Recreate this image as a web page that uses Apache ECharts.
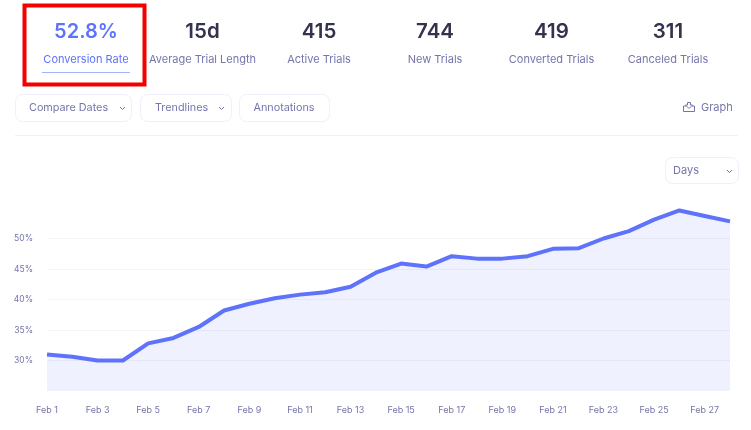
<!DOCTYPE html>
<html>
<head>
<meta charset="utf-8">
<title>Conversion Rate</title>
<style>
html, body { margin: 0; padding: 0; background: #fff; }
#main { width: 751px; height: 430px; }
</style>
<script src="https://cdn.jsdelivr.net/npm/echarts@6/dist/echarts.min.js"></script>
</head>
<body>
<div id="main"></div>
<script>
var days = ['Feb 1','Feb 2','Feb 3','Feb 4','Feb 5','Feb 6','Feb 7','Feb 8','Feb 9','Feb 10','Feb 11','Feb 12','Feb 13','Feb 14',
    'Feb 15','Feb 16','Feb 17','Feb 18','Feb 19','Feb 20','Feb 21','Feb 22','Feb 23','Feb 24','Feb 25','Feb 26','Feb 27','Feb 28'];
var conversion = [31.0,30.6,30.0,30.0,32.8,33.7,35.5,38.2,39.3,40.2,40.8,41.2,42.1,44.4,
    45.9,45.4,47.1,46.7,46.7,47.1,48.3,48.4,50.0,51.2,53.1,54.6,53.7,52.8];
var statValues = ['52.8%','15d','415','744','419','311'];
var statLabels = ['Conversion Rate','Average Trial Length','Active Trials','New Trials','Converted Trials','Canceled Trials'];
var statCentres = [86,202.5,319,435,551.5,668];

var FONT = 'Inter, sans-serif';
var BLUE = '#5e72fb';
var DARK = '#33334f';
var MUTED = '#7575aa';
var BORDER = '#eff0fb';

var myChart = echarts.init(document.getElementById('main'));

function label(x, y, str, size, color, align, weight) {
    return {
        type: 'text', x: x, y: y, silent: true, z: 10,
        style: { text: str, fill: color, font: (weight || 400) + ' ' + size + 'px ' + FONT, align: align || 'center', verticalAlign: 'middle' }
    };
}
function box(x, y, w, h) {
    return {
        type: 'rect', silent: true, z: 5,
        shape: { x: x, y: y, width: w, height: h, r: 7 },
        style: { fill: '#fff', stroke: BORDER, lineWidth: 1 }
    };
}
function chevron(x, y) {
    return {
        type: 'polyline', silent: true, z: 10,
        shape: { points: [[x - 2.5, y - 1.5], [x, y + 1], [x + 2.5, y - 1.5]] },
        style: { fill: null, stroke: MUTED, lineWidth: 1 }
    };
}

var extras = [];
// stat row
for (var i = 0; i < statValues.length; i++) {
    extras.push(label(statCentres[i], 31.5, statValues[i], i === 0 ? 20 : 20.5, i === 0 ? BLUE : DARK, 'center', 600));
    extras.push(label(statCentres[i], 60, statLabels[i], 11, i === 0 ? BLUE : MUTED));
}
// selected stat
extras.push({ type: 'line', silent: true, shape: { x1: 42, y1: 72.5, x2: 130, y2: 72.5 }, style: { stroke: '#a3b1ff', lineWidth: 1 } });
extras.push({ type: 'rect', silent: true, z: 20, shape: { x: 24.5, y: 5.5, width: 120, height: 79 }, style: { fill: null, stroke: '#f50000', lineWidth: 4 } });
// buttons
extras.push(box(15.5, 94.5, 116, 27), label(29, 108, 'Compare Dates', 10.8, MUTED, 'left'), chevron(122.5, 108.5));
extras.push(box(140.5, 94.5, 91, 27), label(155, 108, 'Trendlines', 10.8, MUTED, 'left'), chevron(221.5, 108.5));
extras.push(box(239.5, 94.5, 90, 27), label(284, 108, 'Annotations', 10.8, MUTED));
// download icon + Graph
extras.push({
    type: 'polyline', silent: true,
    shape: { points: [[686, 106], [683.5, 106], [683.5, 111.5], [694.5, 111.5], [694.5, 106], [692, 106]] },
    style: { fill: null, stroke: MUTED, lineWidth: 1 }
});
extras.push({
    type: 'polyline', silent: true,
    shape: { points: [[687.5, 102.5], [690.5, 102.5], [690.5, 105], [692.5, 105], [689, 108.5], [685.5, 105], [687.5, 105], [687.5, 102.5]] },
    style: { fill: null, stroke: MUTED, lineWidth: 1 }
});
extras.push(label(701, 108, 'Graph', 11, MUTED, 'left'));
// divider
extras.push({ type: 'line', silent: true, shape: { x1: 15, y1: 135.5, x2: 738, y2: 135.5 }, style: { stroke: '#f1f1f9', lineWidth: 1 } });
// Days select
extras.push(box(665.5, 157.5, 73, 26), label(673, 170.5, 'Days', 11, MUTED, 'left'), chevron(729.5, 171.5));

var option = {
    animation: false,
    backgroundColor: '#fff',
    textStyle: { fontFamily: FONT },
    grid: { left: 47, right: 21, top: 208, bottom: 39 },
    xAxis: {
        type: 'category',
        data: days,
        boundaryGap: false,
        axisLine: { show: false },
        axisTick: { show: false },
        axisLabel: { interval: 1, color: MUTED, fontSize: 9, fontFamily: FONT, margin: 15, hideOverlap: false },
        splitLine: { show: false }
    },
    yAxis: {
        type: 'value',
        min: 25,
        max: 55,
        interval: 5,
        axisLine: { show: false },
        axisTick: { show: false },
        axisLabel: {
            color: MUTED, fontSize: 8.5, fontFamily: FONT, margin: 14,
            showMinLabel: false, showMaxLabel: false,
            formatter: '{value}%'
        },
        splitLine: { show: true, showMinLine: false, showMaxLine: false, lineStyle: { color: '#f3f3f8', width: 1 } }
    },
    series: [{
        type: 'line',
        data: conversion,
        showSymbol: false,
        lineStyle: { color: BLUE, width: 4, join: 'round' },
        areaStyle: { color: BLUE, opacity: 0.1 },
        itemStyle: { color: BLUE }
    }],
    graphic: { elements: extras }
};
myChart.setOption(option);
</script>
</body>
</html>
